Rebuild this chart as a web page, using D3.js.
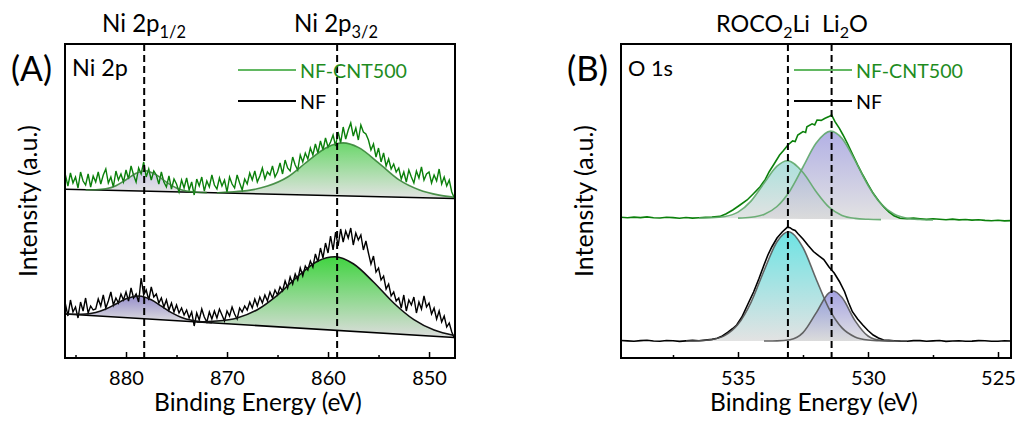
<!DOCTYPE html>
<html><head><meta charset="utf-8">
<script src="https://cdn.jsdelivr.net/npm/d3@7"></script>
<style>body{margin:0;background:#fff} svg{display:block} text{font-family:Lato,'Open Sans',sans-serif;fill:#000}</style>
</head><body>
<svg id="c" width="1021" height="426"></svg>
<script>
// ---------------- DATA ----------------
// Panel A (Ni 2p) — raw spectra sampled every 0.25 eV from 886 eV down to 847.5 eV
const rawA_start = 886, rawA_step = 0.25;
const rawA_top = [ // NF-CNT500
183,172,185,175,181,170,186,177,173,184,171,182,
176,186,174,183,189,175,181,171,187,178,184,176,
188,179,192,183,176,190,184,196,181,189,178,187,
183,174,186,176,171,182,169,179,174,166,178,170,
180,168,176,163,179,172,181,167,177,171,183,173,
169,180,172,178,166,181,174,170,183,175,168,179,
174,185,178,187,176,182,190,179,186,183,192,181,
186,195,184,198,190,187,201,193,188,203,196,205,
199,210,203,214,205,217,208,220,211,216,223,212,
226,215,231,219,228,235,222,230,218,233,226,224,
218,208,214,201,210,196,205,192,199,189,194,186,
190,179,186,176,188,181,175,187,180,191,178,184,
186,175,183,177,189,174,181,172,178,166,160];
const rawA_bot = [ // NF
54,42,58,46,51,40,56,47,60,45,52,48,
49,59,52,63,50,57,66,53,60,55,64,58,
66,57,70,60,64,56,80,63,68,58,71,61,
64,55,60,51,58,48,55,46,53,45,50,43,
48,40,46,32,45,38,49,41,36,46,39,47,
40,49,43,37,47,42,51,44,39,50,46,52,
48,56,50,59,52,61,55,63,57,66,60,68,
63,71,67,77,70,81,74,84,78,90,82,92,
88,97,91,104,96,110,100,115,105,122,108,126,
112,129,116,127,120,130,113,125,118,123,108,117,
105,94,102,86,90,78,82,69,74,62,66,57,
60,50,63,47,58,53,61,45,56,49,62,51,
55,44,50,39,47,36,42,31,35,26,20];
// backgrounds (straight lines, endpoints)
const bgA_top = [[886,168.7],[847.5,159.5]];
const bgA_bot = [[886,44],[847.5,20.5]];
// fitted components [energy, intensity]
const fitA_top_p12 = [[884,168.2],[883,168.3],[882,169.2],[881,172.3],[880,178.3],[879,184.8],[878.1,187.3],[877,183.1],[876,175.9],[875,170.0],[874,166.9],[873,165.8],[872,165.4]];
const fitA_top_p32 = [[871,165.1],[870,165.9],[868,167.4],[866,171.9],[864,181.0],[862,196.9],[860,211.3],[858.5,215.1],[857,210.6],[855,195.2],[853,178.4],[851,168.3],[849,162.9],[847.5,160.7]];
const fitA_bot_p12 = [[886,44],[885,43.8],[884,44.0],[883,45.5],[882,48.9],[881,54.0],[880,59.2],[878.7,62.0],[877.5,58.2],[876.5,51.9],[875.5,45.4],[874.5,40.6],[873.5,37.8],[872.5,36.2],[871.5,35.2]];
const fitA_bot_p32 = [[873,36.1],[871,37.0],[869,40.1],[867,48.3],[865,62.9],[863,81.6],[861,97.0],[859.3,101.2],[857.5,94.2],[855.5,76.0],[853.5,55.0],[851.5,38.3],[849.5,27.9],[847.5,22.5]];
const peakLinesA = [878.2, 859.1];
const ticksA = [880, 870, 860, 850];
const minorA = [885, 875, 865, 855];

// Panel B (O 1s)
const rawB_top = [[539.5,140.7],[539.25,140.2],[539,140.9],[538.75,140.4],[538.5,141.1],[538.25,140.3],[538,140.0],[537.75,140.8],[537.5,140.4],[537.25,139.7],[537,140.5],[536.75,139.9],[536.5,140.2],[536.25,140.6],[536,140.9],[535.7,141.6],[535.45,144.2],[535.2,148],[534.95,152.5],[534.65,158],[534.4,164.5],[534.15,171.3],[533.95,178.6],[533.8,186.3],[533.6,194.5],[533.4,203],[533.25,207.5],[533.08,213],[532.9,217.1],[532.8,216.4],[532.7,223],[532.5,226.4],[532.4,225.6],[532.35,231.3],[532.15,234.2],[532.05,233.1],[531.96,238],[531.8,237.6],[531.65,239.7],[531.5,241.4],[531.4,243],[531.27,236.3],[531.1,229.6],[530.96,223],[530.78,214],[530.58,203],[530.4,193.2],[530.2,183],[530,173.6],[529.8,164.7],[529.6,157.5],[529.4,151.3],[529.2,146.2],[529,142.3],[528.77,139.7],[528.5,139.4],[528.25,139.9],[528,139.2],[527.75,138.6],[527.5,139.3],[527.25,138.8],[527,138.3],[526.75,138.9],[526.5,138.1],[526.25,138.5],[526,137.9],[525.75,138.3],[525.5,137.6],[525.25,137.2],[525,137.8],[524.75,137.1],[524.5,137.4]];
const rawB_bot = [[539.5,17.5],[539.25,17.1],[539,16.7],[538.75,17.4],[538.5,17.8],[538.25,17.0],[538,16.8],[537.75,17.5],[537.5,17.2],[537.25,16.6],[537,17.1],[536.75,17.6],[536.5,17.3],[536.25,17.9],[536,18.6],[535.8,19.7],[535.6,22],[535.4,25.5],[535.2,29.5],[535.05,33],[534.85,41],[534.6,55],[534.4,66],[534.2,79],[534,93],[533.85,103],[533.7,111],[533.5,120],[533.3,126],[533.1,130.8],[533,130.3],[532.9,128.4],[532.8,127.5],[532.7,124.5],[532.5,119],[532.3,112.5],[532.1,106.5],[531.9,102.3],[531.7,98.5],[531.5,91],[531.3,85],[531.1,76.5],[530.9,66.3],[530.75,55.5],[530.6,46.3],[530.4,39],[530.2,33],[530,27.5],[529.8,23],[529.6,20],[529.4,18],[529.2,17.6],[529,17.3],[528.75,16.9],[528.5,16.8],[528.25,17.4],[528,17.4],[527.75,16.8],[527.5,17.1],[527.25,17.5],[527,16.6],[526.75,17.0],[526.5,17.2],[526.25,16.7],[526,16.9],[525.75,17.4],[525.5,17.3],[525.25,16.8],[525,16.7],[524.75,17.2],[524.5,17]];
const bgB_top = [[539.5,140.7],[524.5,137.3]];
const bgB_bot = [[539.5,17],[524.5,17]];
const fitB_top_roco = [[536.5,140.0],[536,140.2],[535.5,141.5],[535,145.9],[534.5,156.9],[534,174.7],[533.5,191.8],[533.1,197.2],[532.5,185.5],[532,166.5],[531.5,150.8],[531,142.6],[530.5,139.6],[530,138.7],[529.5,138.4]];
const fitB_top_li2o = [[535,139.9],[534.5,140.7],[534,143.6],[533.5,151.5],[533,167.3],[532.5,191.0],[532,214.7],[531.43,226.9],[531,219.6],[530.5,197.6],[530,172.7],[529.5,154.2],[529,144.0],[528.5,139.8],[528,138.5],[527.5,138.0]];
const fitB_bot_roco = [[537,17.0],[536.5,17.3],[536,18.5],[535.5,22.6],[535,33.7],[534.5,55.7],[534,87.3],[533.5,116.2],[533.06,126.3],[532.5,110.4],[532,79.3],[531.5,49.4],[531,30.1],[530.5,21.1],[530,18.0],[529.5,17.2],[529,17.0]];
const fitB_bot_li2o = [[534,17.0],[533.5,17.1],[533,18.3],[532.5,25.4],[532,44.9],[531.5,65.2],[531.33,67.0],[531,60.4],[530.5,37.4],[530,22.0],[529.5,17.6],[529,17.05],[528.5,17.0]];
const peakLinesB = [533.08, 531.4];
const ticksB = [535, 530, 525];
const minorB = [537.5, 532.5, 527.5];

const seriesNames = ["NF-CNT500", "NF"];

// ---------------- DRAW ----------------
const svg = d3.select('#c');
const defs = svg.append('defs');
function grad(id, top, bottom){
  const g = defs.append('linearGradient').attr('id', id).attr('x1',0).attr('y1',0).attr('x2',0).attr('y2',1);
  g.append('stop').attr('offset','0%').attr('stop-color', top);
  g.append('stop').attr('offset','100%').attr('stop-color', bottom);
}
grad('gA_t1', '#c3bfe2', '#e2e2e2');
grad('gA_t2', '#52d052', '#dedede');
grad('gA_b1', '#8b82c6', '#dcdcdc');
grad('gA_b2', '#2ccf2c', '#d9d9d9');
grad('gB_t1', '#8fd6d0', '#d9d9d9');
grad('gB_t2', '#9896dc', '#d9d9d9');
grad('gB_b1', '#3ddada', '#d9d9d9');
grad('gB_b2', '#8683d8', '#d9d9d9');

const Y = d3.scaleLinear().domain([0, 314]).range([358, 44]);

function fitW(t, w){
  const L = t.node().getComputedTextLength();
  t.attr('font-size', (+t.attr('font-size')) * w / L);
  return t;
}

function panel(o){
  const X = d3.scaleLinear().domain(o.domain).range(o.range);
  const g = svg.append('g');
  const cid = 'clip' + o.key;
  defs.append('clipPath').attr('id', cid).append('rect')
    .attr('x', o.range[0]).attr('y', Y.range()[1])
    .attr('width', o.range[1]-o.range[0]).attr('height', Y.range()[0]-Y.range()[1]);
  const body = g.append('g').attr('clip-path', `url(#${cid})`);

  o.series.forEach((s, si) => {
    const bg = d3.scaleLinear().domain([s.bg[0][0], s.bg[1][0]]).range([s.bg[0][1], s.bg[1][1]]);
    const area = d3.area().x(d => X(d[0])).y0(d => Y(bg(d[0]))).y1(d => Y(d[1])).curve(d3.curveMonotoneX);
    const line = d3.line().x(d => X(d[0])).y(d => Y(d[1])).curve(d3.curveMonotoneX);
    s.comps.forEach(c => {
      body.append('path').attr('d', area(c.data)).attr('fill', `url(#${c.grad})`).attr('fill-opacity', c.op);
    });
    if (s.streak) {
      const sc = 'sclip' + o.key + si;
      const cp = defs.append('clipPath').attr('id', sc);
      s.comps.forEach(c => cp.append('path').attr('d', area(c.data)));
      const up = d3.area().x(d => X(d[0])).y0(d => Y(d[1])).y1(Y.range()[1]);
      body.append('path').attr('d', up(s.raw)).attr('fill', '#fff').attr('fill-opacity', 0.45).attr('clip-path', `url(#${sc})`);
    }
    if (s.bgLine) {
      body.append('path').attr('d', d3.line().x(d => X(d[0])).y(d => Y(d[1]))(s.bg))
        .attr('fill','none').attr('stroke','#000').attr('stroke-width',1.6);
    }
    body.append('path').attr('d', d3.line().x(d => X(d[0])).y(d => Y(d[1]))(s.raw))
      .attr('fill','none').attr('stroke', s.color).attr('stroke-width', s.rawW).attr('stroke-linejoin','miter');
    s.comps.forEach(c => {
      body.append('path').attr('d', line(c.data)).attr('fill','none')
        .attr('stroke', s.fitColor).attr('stroke-width', 1.6).attr('stroke-opacity', s.fitOp);
    });
  });

  g.selectAll('.pk').data(o.peaks).join('line')
    .attr('x1', d => X(d)).attr('x2', d => X(d))
    .attr('y1', Y.range()[1]).attr('y2', Y.range()[0])
    .attr('stroke','#000').attr('stroke-width',2).attr('stroke-dasharray','7,4');

  g.append('rect').attr('x', o.range[0]).attr('y', Y.range()[1])
    .attr('width', o.range[1]-o.range[0]).attr('height', Y.range()[0]-Y.range()[1])
    .attr('fill','none').attr('stroke','#000').attr('stroke-width',2);

  const ax = g.append('g').attr('transform', `translate(0,${Y.range()[0]})`)
    .call(d3.axisBottom(X).tickValues(o.ticks).tickSize(-6).tickFormat(d3.format('d')));
  ax.select('.domain').remove();
  ax.selectAll('line').attr('stroke','#000').attr('stroke-width',1.5);
  ax.selectAll('text').attr('dy', null).attr('y', 27).attr('font-size', 20)
    .attr('font-family', 'Lato, sans-serif').attr('fill','#000');
  const axm = g.append('g').attr('transform', `translate(0,${Y.range()[0]})`)
    .call(d3.axisBottom(X).tickValues(o.minor).tickSize(-3).tickFormat(''));
  axm.select('.domain').remove();
  axm.selectAll('line').attr('stroke','#000').attr('stroke-width',1.5);

  const cx = (o.range[0] + o.range[1]) / 2;
  fitW(g.append('text').attr('x', cx - 2).attr('y', 411).attr('text-anchor','middle')
    .attr('font-size', 24).text('Binding Energy (eV)'), 208);
  fitW(g.append('text').attr('transform', `translate(${o.range[0]-28},${(Y.range()[0]+Y.range()[1])/2}) rotate(-90)`)
    .attr('text-anchor','middle').attr('font-size', 24).text('Intensity (a.u.)'), 152);

  fitW(g.append('text').attr('x', o.range[0]-54).attr('y', 81).attr('font-size', 26).text(o.letter), 41);
  fitW(g.append('text').attr('x', o.range[0]+7).attr('y', 76).attr('font-size', 18).text(o.core), o.coreW);

  const lg = g.append('g');
  const lx = o.legendX;
  lg.append('line').attr('x1', lx).attr('x2', lx + 58).attr('y1', 70).attr('y2', 70)
    .attr('stroke', '#62b862').attr('stroke-width', 2);
  lg.append('line').attr('x1', lx).attr('x2', lx + 58).attr('y1', 101).attr('y2', 101)
    .attr('stroke', '#000').attr('stroke-width', 2);
  fitW(lg.append('text').attr('x', lx + 62).attr('y', 78).attr('font-size', 20)
    .style('fill', '#1e8c1e').text(seriesNames[0]), 107);
  lg.append('text').attr('x', lx + 62).attr('y', 109).text(seriesNames[1])
    .attr('font-size', lg.select('text').attr('font-size'));

  return {X, g};
}

panel({
  key: 'A', domain: [886.04, 847.43], range: [65, 455],
  ticks: ticksA, minor: minorA, peaks: peakLinesA, letter: '(A)', core: 'Ni 2p', coreW: 56, legendX: 238,
  series: [
    { raw: rawA_top.map((v,i) => [rawA_start - rawA_step*i, v]), bg: bgA_top, bgLine: true, color: '#0b800b', rawW: 1.4,
      fitColor: '#2f7f2f', fitOp: 0.85, streak: true,
      comps: [{data: fitA_top_p12, grad: 'gA_t1', op: 0.9}, {data: fitA_top_p32, grad: 'gA_t2', op: 0.85}] },
    { raw: rawA_bot.map((v,i) => [rawA_start - rawA_step*i, v]), bg: bgA_bot, bgLine: true, color: '#000', rawW: 1.4,
      fitColor: '#111', fitOp: 1, streak: true,
      comps: [{data: fitA_bot_p12, grad: 'gA_b1', op: 0.9}, {data: fitA_bot_p32, grad: 'gA_b2', op: 0.9}] }
  ]
});

panel({
  key: 'B', domain: [539.5, 524.5], range: [621, 1011],
  ticks: ticksB, minor: minorB, peaks: peakLinesB, letter: '(B)', core: 'O 1s', coreW: 45, legendX: 794,
  series: [
    { raw: rawB_top, bg: bgB_top, bgLine: false, color: '#0b800b', rawW: 1.6,
      fitColor: '#5fa86a', fitOp: 0.9, streak: false,
      comps: [{data: fitB_top_roco, grad: 'gB_t1', op: 0.75}, {data: fitB_top_li2o, grad: 'gB_t2', op: 0.75}] },
    { raw: rawB_bot, bg: bgB_bot, bgLine: false, color: '#000', rawW: 1.6,
      fitColor: '#555', fitOp: 0.9, streak: false,
      comps: [{data: fitB_bot_roco, grad: 'gB_b1', op: 0.75}, {data: fitB_bot_li2o, grad: 'gB_b2', op: 0.75}] }
  ]
});

function subLabel(x, parts, w){
  const t = svg.append('text').attr('x', x).attr('y', 32).attr('font-size', 22);
  parts.forEach(p => {
    if (p.sub) t.append('tspan').attr('font-size', '0.68em').attr('dy', '0.35em').text(p.t);
    else t.append('tspan').attr('dy', p.back ? '-0.238em' : null).text(p.t);
  });
  return fitW(t, w);
}
subLabel(102, [{t:'Ni 2p'}, {t:'1/2', sub:true}], 84);
subLabel(294, [{t:'Ni 2p'}, {t:'3/2', sub:true}], 84);
subLabel(716, [{t:'ROCO'}, {t:'2', sub:true}, {t:'Li', back:true}], 94);
subLabel(822, [{t:'Li'}, {t:'2', sub:true}, {t:'O', back:true}], 46);
</script></body></html>
